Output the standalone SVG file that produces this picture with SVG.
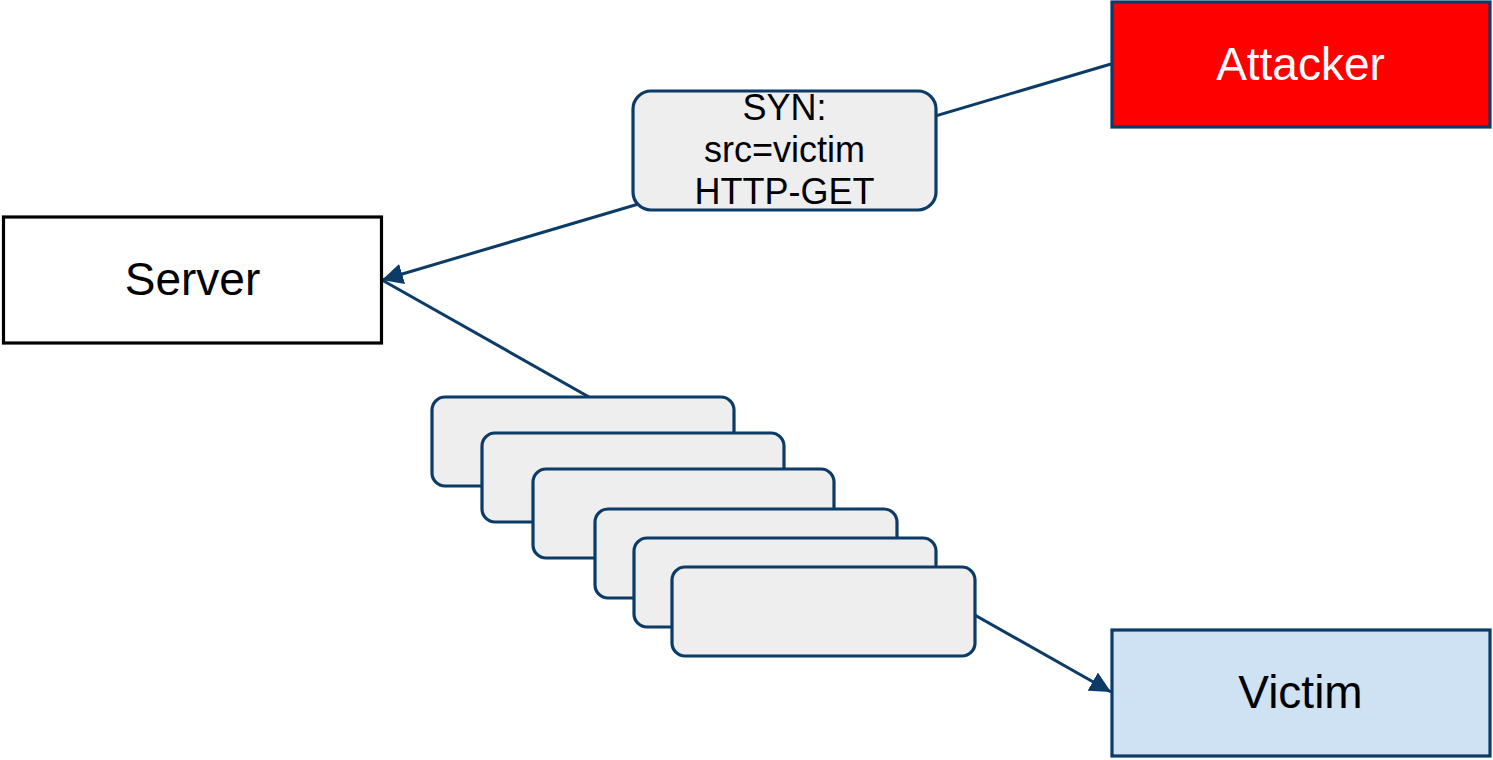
<svg xmlns="http://www.w3.org/2000/svg" width="1493" height="760" viewBox="0 0 1493 760">
  <style>
    .conn { stroke: #0b3b66; stroke-width: 3; fill: none; }
    .pkt { fill: #eeeeee; stroke: #0b3b66; stroke-width: 3.2; }
    .lbl { font-family: "Liberation Sans", Arial, sans-serif; text-anchor: middle; }
  </style>
  <defs>
    <marker id="arrow" viewBox="0 0 10 10" refX="10" refY="5" markerWidth="7" markerHeight="7" markerUnits="strokeWidth" orient="auto">
      <path d="M0,0 L10,5 L0,10 z" fill="#0b3b66"/>
    </marker>
  </defs>
  <rect width="1493" height="760" fill="#ffffff"/>

  <g id="connectors">
    <line class="conn" x1="1111" y1="64" x2="382" y2="280" marker-end="url(#arrow)"/>
    <line class="conn" x1="382" y1="280" x2="1111" y2="692" marker-end="url(#arrow)"/>
  </g>

  <g id="server">
    <rect x="3.5" y="217" width="378" height="126" fill="#ffffff" stroke="#000000" stroke-width="3.2"/>
    <text class="lbl" x="192.5" y="295" font-size="46" fill="#000000">Server</text>
  </g>

  <g id="attacker">
    <rect x="1112" y="2" width="378" height="125" fill="#ff0000" stroke="#0b3b66" stroke-width="3.2"/>
    <text class="lbl" x="1300.5" y="80" font-size="46" fill="#ffffff">Attacker</text>
  </g>

  <g id="victim">
    <rect x="1112" y="630" width="378" height="126" fill="#cfe2f3" stroke="#0b3b66" stroke-width="3.2"/>
    <text class="lbl" x="1300.5" y="708" font-size="46" fill="#000000">Victim</text>
  </g>

  <g id="syn-label">
    <rect class="pkt" x="633" y="91" width="303" height="119" rx="18"/>
    <text class="lbl" x="784.5" y="120" font-size="36" fill="#000000">SYN:</text>
    <text class="lbl" x="784.5" y="162" font-size="36" fill="#000000">src=victim</text>
    <text class="lbl" x="784.5" y="204" font-size="36" fill="#000000">HTTP-GET</text>
  </g>

  <g id="response-stack">
    <rect class="pkt" x="432" y="397" width="302" height="89" rx="13"/>
    <rect class="pkt" x="482" y="433" width="302" height="89" rx="13"/>
    <rect class="pkt" x="533" y="469" width="301" height="89" rx="13"/>
    <rect class="pkt" x="595" y="509" width="302" height="89" rx="13"/>
    <rect class="pkt" x="634" y="538" width="302" height="89" rx="13"/>
    <rect class="pkt" x="672" y="567" width="303" height="89" rx="13"/>
  </g>
</svg>
